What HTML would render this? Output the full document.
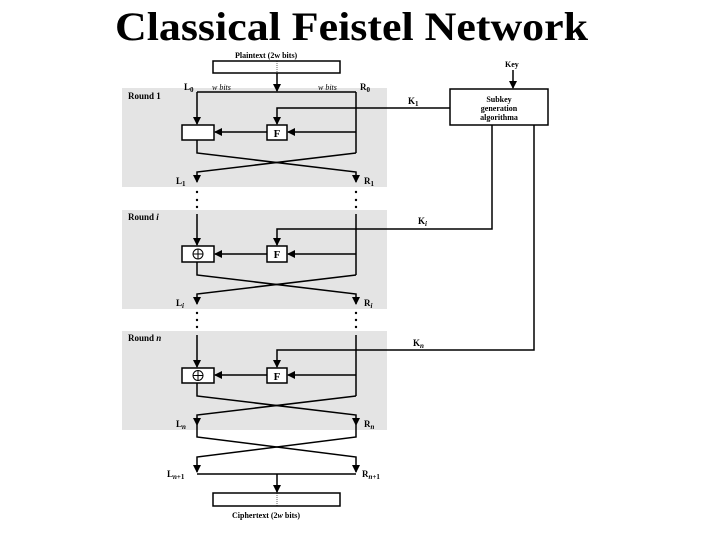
<!DOCTYPE html>
<html><head><meta charset="utf-8"><style>
html,body{margin:0;padding:0;background:#fff;}
svg{display:block;}
</style></head><body>
<svg width="720" height="540" viewBox="0 0 720 540" xmlns="http://www.w3.org/2000/svg" font-family="Liberation Serif, serif">
<defs>
<marker id="a" markerWidth="8" markerHeight="8" refX="7" refY="4" orient="auto" markerUnits="userSpaceOnUse">
<path d="M0,0 L8,4 L0,8 z" fill="#000"/></marker>
</defs>
<text x="115" y="40" font-size="40" font-weight="bold" textLength="473" lengthAdjust="spacingAndGlyphs">Classical Feistel Network</text>

<rect x="122" y="88" width="265" height="99" fill="#e4e4e4"/>
<rect x="122" y="210" width="265" height="99" fill="#e4e4e4"/>
<rect x="122" y="331" width="265" height="99" fill="#e4e4e4"/>

<g fill="none" stroke="#000" stroke-width="1.5">
<rect x="213" y="61" width="127" height="12" fill="#fff"/>
<line x1="277" y1="61" x2="277" y2="73" stroke-width="0.6" stroke-dasharray="1,1"/>
<line x1="277" y1="73" x2="277" y2="91" marker-end="url(#a)"/>
<path d="M197,92 H356"/>
<rect x="450" y="89" width="98" height="36" fill="#fff"/>
<line x1="513" y1="70" x2="513" y2="88" marker-end="url(#a)"/>
<path d="M450,108 H277 V124" marker-end="url(#a)"/>
<path d="M492,125 V229 H277 V245" marker-end="url(#a)"/>
<path d="M534,125 V350 H277 V367" marker-end="url(#a)"/>

<line x1="197" y1="92" x2="197" y2="124" marker-end="url(#a)"/>
<path d="M356,92 V153"/>
<rect x="182" y="125" width="32" height="15" fill="#fff"/>
<rect x="267" y="125" width="20" height="15" fill="#fff"/>
<line x1="356" y1="132" x2="288" y2="132" marker-end="url(#a)"/>
<line x1="267" y1="132" x2="215" y2="132" marker-end="url(#a)"/>
<path d="M197,140 V153 L356,172 V182" marker-end="url(#a)"/>
<path d="M356,153 L197,172 V182" marker-end="url(#a)"/>

<line x1="197" y1="214" x2="197" y2="245" marker-end="url(#a)"/>
<path d="M356,214 V275"/>
<rect x="182" y="246" width="32" height="16" fill="#fff"/>
<rect x="267" y="246" width="20" height="16" fill="#fff"/>
<line x1="356" y1="254" x2="288" y2="254" marker-end="url(#a)"/>
<line x1="267" y1="254" x2="215" y2="254" marker-end="url(#a)"/>
<path d="M197,262 V275 L356,294 V304" marker-end="url(#a)"/>
<path d="M356,275 L197,294 V304" marker-end="url(#a)"/>

<line x1="197" y1="335" x2="197" y2="367" marker-end="url(#a)"/>
<path d="M356,335 V396"/>
<rect x="182" y="368" width="32" height="15" fill="#fff"/>
<rect x="267" y="368" width="20" height="15" fill="#fff"/>
<line x1="356" y1="375" x2="288" y2="375" marker-end="url(#a)"/>
<line x1="267" y1="375" x2="215" y2="375" marker-end="url(#a)"/>
<path d="M197,383 V396 L356,415 V425" marker-end="url(#a)"/>
<path d="M356,396 L197,415 V425" marker-end="url(#a)"/>

<path d="M197,425 V437 L356,457 V472" marker-end="url(#a)"/>
<path d="M356,425 V437 L197,457 V472" marker-end="url(#a)"/>
<path d="M197,474 H356"/>
<line x1="277" y1="474" x2="277" y2="492" marker-end="url(#a)"/>
<rect x="213" y="493" width="127" height="13" fill="#fff"/>
<line x1="277" y1="493" x2="277" y2="506" stroke-width="0.6" stroke-dasharray="1,1"/>
</g>
<g fill="#fff" stroke="#000" stroke-width="1">
<circle cx="198" cy="254" r="5"/><path d="M193,254 H203 M198,249 V259"/>
<circle cx="198" cy="375.5" r="5"/><path d="M193,375.5 H203 M198,370.5 V380.5"/>
</g>
<g font-weight="bold" font-size="11" text-anchor="middle">
<text x="277" y="137">F</text><text x="277" y="258">F</text><text x="277" y="380">F</text>
</g>
<g fill="#000">
<circle cx="197" cy="192" r="1.2"/><circle cx="197" cy="200" r="1.2"/><circle cx="197" cy="207" r="1.2"/>
<circle cx="356" cy="192" r="1.2"/><circle cx="356" cy="200" r="1.2"/><circle cx="356" cy="207" r="1.2"/>
<circle cx="197" cy="313" r="1.2"/><circle cx="197" cy="320" r="1.2"/><circle cx="197" cy="327" r="1.2"/>
<circle cx="356" cy="313" r="1.2"/><circle cx="356" cy="320" r="1.2"/><circle cx="356" cy="327" r="1.2"/>
</g>

<g font-weight="bold" font-size="8">
<text x="235" y="58">Plaintext (2w bits)</text>
<text x="128" y="99" font-size="9">Round 1</text>
<text x="128" y="220" font-size="9">Round <tspan font-style="italic">i</tspan></text>
<text x="128" y="341" font-size="9">Round <tspan font-style="italic">n</tspan></text>
<text x="184" y="90" font-size="9">L<tspan font-size="7" dy="2">0</tspan></text>
<text x="212" y="90" font-weight="normal" font-style="italic">w bits</text>
<text x="318" y="90" font-weight="normal" font-style="italic">w bits</text>
<text x="360" y="90" font-size="9">R<tspan font-size="7" dy="2">0</tspan></text>
<text x="176" y="184" font-size="9">L<tspan font-size="7" dy="2">1</tspan></text>
<text x="364" y="184" font-size="9">R<tspan font-size="7" dy="2">1</tspan></text>
<text x="176" y="306" font-size="9">L<tspan font-size="7" dy="2" font-style="italic">i</tspan></text>
<text x="364" y="306" font-size="9">R<tspan font-size="7" dy="2" font-style="italic">i</tspan></text>
<text x="176" y="427" font-size="9">L<tspan font-size="7" dy="2" font-style="italic">n</tspan></text>
<text x="364" y="427" font-size="9">R<tspan font-size="7" dy="2" font-style="italic">n</tspan></text>
<text x="167" y="477" font-size="9">L<tspan font-size="7" dy="2"><tspan font-style="italic">n</tspan>+1</tspan></text>
<text x="362" y="477" font-size="9">R<tspan font-size="7" dy="2"><tspan font-style="italic">n</tspan>+1</tspan></text>
<text x="232" y="518">Ciphertext (2<tspan font-style="italic">w</tspan> bits)</text>
<text x="505" y="67">Key</text>
<text x="499" y="102" text-anchor="middle">Subkey</text>
<text x="499" y="111" text-anchor="middle">generation</text>
<text x="499" y="120" text-anchor="middle">algorithma</text>
<text x="408" y="104" font-size="9">K<tspan font-size="7" dy="2">1</tspan></text>
<text x="418" y="224" font-size="9">K<tspan font-size="7" dy="2" font-style="italic">i</tspan></text>
<text x="413" y="346" font-size="9">K<tspan font-size="7" dy="2" font-style="italic">n</tspan></text>
</g>
</svg>
</body></html>
